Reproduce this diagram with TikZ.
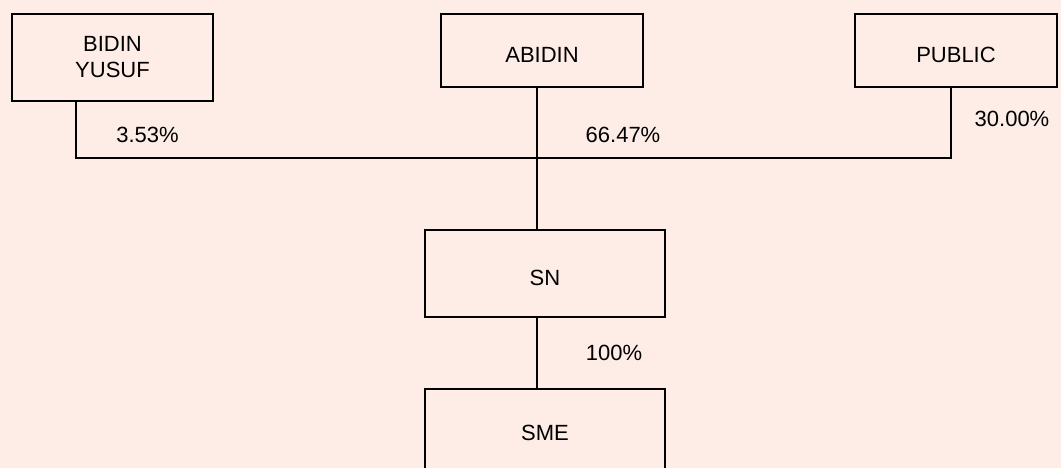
\documentclass[tikz,border=0pt]{standalone}
\usepackage{fontspec}
\setmainfont{Liberation Sans}
\definecolor{paper}{RGB}{253,237,230}
\tikzset{
  orgbox/.style={draw=black, line width=1.6pt, inner sep=0pt, align=center,
    font=\fontsize{22}{26}\selectfont},
  onebox/.style={orgbox, text height=24pt, text depth=0pt},
  share/.style={inner sep=0pt, font=\fontsize{22}{26}\selectfont},
  link/.style={draw=black, line width=1.5pt}
}
\begin{document}
\begin{tikzpicture}[x=1pt,y=-1pt]
  \fill[paper] (0,0) rectangle (1061,468);
  \useasboundingbox (0,0) rectangle (1061,468);
  \clip (0,0) rectangle (1061,468);

  % shareholders
  \node[orgbox, minimum width=201pt, minimum height=87pt] (bidin) at (112.5,57.5) {BIDIN\\YUSUF};
  \node[onebox, minimum width=202pt, minimum height=73pt] (abidin) at (542,50.5) {ABIDIN};
  \node[onebox, minimum width=202pt, minimum height=73pt] (public) at (956,50.5) {PUBLIC};

  % companies
  \node[onebox, minimum width=240pt, minimum height=87pt] (sn) at (545,273.5) {SN};
  \node[orgbox, minimum width=240pt, minimum height=87pt] (sme) at (545,432.5) {SME};

  % junction points on the ownership bar
  \coordinate (jl) at (76,158);
  \coordinate (jm) at (537,158);
  \coordinate (jr) at (951,158);

  % connectors
  \draw[link] (bidin.south -| jl) -- (jl) -- (jr) -- (public.south -| jr);
  \draw[link] (abidin.south -| jm) -- (sn.north -| jm);
  \draw[link] (sn.south -| jm) -- (sme.north -| jm);

  % shareholdings
  \node[share] (pbidin) at (147.5,134.5) {3.53\%};
  \node[share] (pabidin) at (623,134.5) {66.47\%};
  \node[share] (ppublic) at (1012,118.5) {30.00\%};
  \node[share] (psn) at (614,352.5) {100\%};
\end{tikzpicture}
\end{document}
